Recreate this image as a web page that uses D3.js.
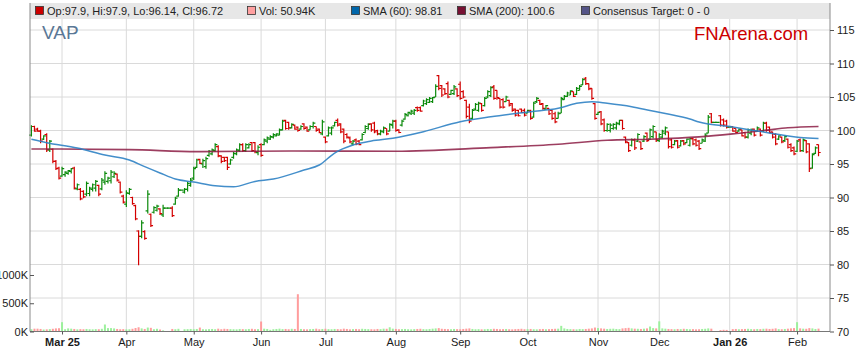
<!DOCTYPE html>
<html>
<head>
<meta charset="utf-8">
<script src="https://cdnjs.cloudflare.com/ajax/libs/d3/7.8.5/d3.min.js"></script>
<style>
  body { margin: 0; background: #fff; }
  svg { display: block; font-family: "Liberation Sans", Arial, sans-serif; }
</style>
</head>
<body>
<div id="canvas"></div>
<script>
// DATA: one bar per weekday, index 0 = 17 Feb 2025
const opens = [
  99.3,100.6,100.2,99.9,98.7,99.4,97.1,97.2,95.4,94.4,
  93.2,93.4,93.6,93.9,94.4,91.3,91.2,90.9,90.5,90.6,
  91.2,91.4,91.8,91.3,92.3,92.4,92.5,93.1,93.5,92.3,
  90.2,89.0,90.6,90.0,88.8,85.0,84.2,84.9,88.0,87.5,
  87.8,88.1,88.3,87.4,88.4,88.4,88.4,89.0,90.2,91.1,
  90.8,91.2,91.8,92.9,94.5,95.7,95.0,94.6,96.3,96.5,
  97.0,97.6,96.2,96.0,96.0,95.0,96.0,96.5,97.0,97.9,
  97.0,97.4,98.2,98.2,96.7,97.9,97.9,98.4,98.7,99.0,
  99.2,99.3,100.1,101.5,101.2,100.4,100.8,100.5,100.2,101.0,
  100.5,100.1,100.6,100.6,100.2,99.5,99.0,99.2,99.6,100.7,
  101.5,101.0,100.2,99.4,98.9,98.0,98.6,98.4,98.6,99.7,
  100.3,101.0,101.1,100.0,99.5,99.8,100.3,99.9,100.8,101.4,
  100.1,100.8,101.7,102.2,102.5,102.6,103.4,103.4,103.7,104.0,
  104.2,104.3,105.0,108.2,106.7,106.2,107.0,105.4,105.5,106.2,
  106.9,105.8,104.5,103.5,101.8,103.2,103.0,104.0,103.7,105.0,
  105.2,106.5,106.0,104.8,104.6,104.3,104.5,104.0,103.2,103.0,
  103.2,103.0,102.6,102.9,102.0,104.3,104.5,104.0,103.2,103.3,
  103.0,102.5,101.8,102.6,104.6,105.1,105.3,105.8,105.4,106.0,
  106.8,107.8,107.0,106.3,104.0,102.4,102.8,101.6,100.0,100.0,
  100.3,100.4,101.0,101.5,99.0,98.2,97.8,98.6,98.4,98.3,
  98.4,99.6,98.7,99.1,99.8,98.5,99.0,99.6,99.8,98.6,
  97.9,98.5,97.7,98.5,98.2,97.8,98.8,98.6,98.4,98.1,
  98.4,99.6,102.5,101.2,101.2,102.2,101.6,101.4,100.5,100.6,
  100.3,99.9,100.1,99.7,99.0,99.6,100.2,99.9,100.2,99.9,
  101.1,100.5,99.8,99.4,98.7,99.0,98.5,98.7,97.9,97.4,
  96.9,98.6,97.0,98.5,98.0,94.4,96.6,97.9
];
const highs = [
  100.8,100.7,100.4,100.1,99.3,99.6,98.6,97.3,95.6,94.6,
  94.6,93.9,94.1,94.4,94.6,92.1,91.4,91.1,92.4,91.6,
  92.1,92.6,91.9,92.9,93.9,93.1,94.1,93.9,93.6,92.4,
  90.4,91.1,91.4,90.1,88.9,85.1,86.6,85.1,91.1,87.6,
  88.7,88.9,88.4,88.9,88.4,88.4,88.7,90.1,91.4,91.1,
  91.4,92.4,92.9,94.6,95.8,95.8,95.8,96.1,97.1,97.3,
  98.1,97.8,96.3,96.1,96.1,95.8,96.8,97.3,98.1,98.1,
  98.1,98.1,98.3,98.3,97.8,98.1,98.8,99.1,99.3,99.6,
  99.6,100.3,101.6,101.6,101.3,101.1,100.9,100.6,100.8,101.1,
  100.6,100.8,101.3,100.6,100.3,101.6,99.1,100.6,100.6,101.3,
  101.8,101.1,100.3,99.6,99.1,98.6,98.8,98.6,99.6,100.8,
  101.1,101.1,101.3,100.1,100.1,100.6,100.3,101.1,101.6,101.6,
  100.2,101.6,102.6,102.8,103.1,103.2,103.6,103.6,104.6,104.8,
  105.0,105.0,106.9,108.3,106.8,106.3,107.3,106.1,106.8,106.3,
  107.3,106.0,104.6,104.0,103.2,104.1,104.3,104.1,105.0,106.0,
  106.6,106.8,106.0,104.8,104.8,105.2,104.6,104.1,103.3,103.1,
  103.3,103.3,103.1,103.1,104.3,105.0,104.6,104.1,103.8,103.3,
  103.1,102.8,102.8,105.0,105.3,105.8,106.0,105.8,106.5,106.8,
  107.8,108.0,107.0,106.3,104.1,102.8,102.9,101.8,101.1,101.1,
  101.1,101.3,101.6,101.6,99.1,98.3,98.8,98.8,99.6,98.3,
  99.3,99.7,100.3,100.8,99.8,99.6,100.1,100.6,99.8,98.8,
  98.6,98.6,98.6,98.6,98.8,98.9,98.9,98.8,98.6,98.8,
  99.6,102.3,102.6,101.2,101.2,102.3,101.8,101.6,100.5,100.6,
  100.3,100.3,100.1,99.8,100.3,100.3,100.3,100.6,100.3,101.3,
  101.3,100.6,99.8,99.6,99.3,99.1,99.3,98.8,98.1,97.6,
  98.6,98.8,98.8,98.6,98.1,96.6,97.6,97.9
];
const lows = [
  99.1,99.8,99.8,98.1,98.6,96.8,96.8,95.1,94.1,92.7,
  93.1,93.1,93.4,93.6,91.2,91.1,89.6,89.9,90.2,90.2,
  90.9,90.9,90.2,91.1,91.9,92.1,92.1,92.9,92.4,90.6,
  89.1,88.6,90.4,88.9,86.6,79.9,83.9,83.7,87.6,85.6,
  87.6,87.9,87.4,87.1,88.4,88.4,87.1,88.9,90.1,91.1,
  90.6,90.9,91.6,92.6,94.4,95.0,94.4,94.3,96.1,96.3,
  96.8,96.0,95.1,95.3,94.1,94.9,95.8,96.3,96.8,96.8,
  96.8,97.3,96.8,96.6,96.3,96.1,97.8,98.1,98.6,98.8,
  99.1,99.3,100.0,100.1,100.1,100.3,100.1,99.8,100.1,100.1,
  99.8,100.1,100.3,99.8,99.6,99.3,98.1,99.1,99.3,100.6,
  100.6,99.6,98.1,98.8,98.1,97.8,97.8,97.8,98.5,99.6,
  100.1,99.8,99.6,99.3,99.3,99.6,99.3,99.9,100.3,99.8,
  99.6,100.6,101.6,102.1,102.3,102.3,102.8,102.8,103.6,103.8,
  104.1,104.1,105.0,106.0,105.0,105.3,104.8,105.3,105.3,105.0,
  104.6,104.8,101.8,101.1,101.6,103.0,102.8,102.8,103.6,104.8,
  105.0,104.6,104.6,103.3,103.3,104.3,103.6,102.8,102.1,102.1,
  102.6,102.1,102.6,101.6,101.9,104.1,103.8,103.1,103.1,102.3,
  101.6,101.1,101.8,102.6,104.6,105.0,105.3,105.0,105.3,106.0,
  106.8,106.8,106.0,104.6,101.6,102.3,100.8,99.8,99.8,99.7,
  100.1,100.1,100.8,100.1,98.1,96.8,97.6,97.1,98.3,97.1,
  98.3,98.3,98.6,98.8,98.3,98.3,98.8,99.3,97.3,97.3,
  97.8,97.3,97.6,97.8,98.1,97.6,97.8,97.6,97.1,98.1,
  98.3,99.6,101.1,101.2,101.2,100.6,100.6,100.3,100.5,99.8,
  99.6,99.8,99.1,98.8,98.8,99.3,99.1,99.8,99.1,99.8,
  99.8,99.6,98.8,97.8,98.6,98.1,98.3,97.3,96.8,96.3,
  96.8,96.8,96.8,96.6,93.8,94.3,96.5,96.14
];
const closes = [
  100.6,99.9,99.9,98.4,99.2,97.1,98.4,95.4,94.3,92.9,
  94.3,93.8,94.0,94.3,91.4,91.9,89.8,90.1,92.1,91.4,
  91.9,92.4,90.5,92.6,93.6,92.9,93.8,93.6,92.6,90.8,
  89.3,90.7,91.2,89.1,86.8,84.2,86.2,83.9,90.5,85.8,
  88.5,88.7,87.6,88.4,88.4,88.4,87.3,89.9,91.1,91.1,
  91.2,92.1,92.6,94.3,95.6,95.1,95.5,95.8,96.9,97.1,
  97.9,96.2,95.4,95.5,94.5,95.6,96.6,97.1,97.9,97.0,
  97.9,97.9,97.0,96.8,97.5,96.3,98.6,98.9,99.1,99.4,
  99.5,100.1,101.4,100.3,100.4,100.9,100.2,100.0,100.6,100.3,
  99.9,100.6,101.1,100.0,99.7,101.3,98.3,100.4,100.4,101.2,
  100.8,99.8,98.4,99.0,98.3,98.4,98.0,97.9,99.4,100.6,
  100.9,100.1,99.8,99.5,99.9,100.4,99.5,100.9,101.4,100.0,
  99.7,101.4,102.4,102.7,102.9,103.0,103.0,102.9,104.4,104.6,
  104.8,104.9,106.6,106.3,105.3,105.5,105.0,106.0,106.5,105.2,
  104.8,105.0,102.1,101.4,103.0,103.9,104.1,103.0,104.8,105.8,
  106.4,104.8,104.9,103.5,103.5,105.0,103.8,103.0,102.3,102.2,
  102.7,102.3,103.0,101.8,104.1,104.8,103.9,103.3,103.7,102.5,
  101.8,101.3,102.5,104.8,105.1,105.6,105.9,105.1,106.3,106.6,
  107.6,107.0,106.2,104.8,101.8,102.7,101.0,100.0,100.9,100.8,
  100.9,101.1,101.5,100.3,98.3,97.0,98.6,97.4,99.4,97.3,
  99.1,98.5,100.1,100.6,98.6,99.4,99.9,100.4,97.6,97.5,
  98.4,97.5,98.4,98.0,98.7,98.8,98.0,97.8,97.3,98.6,
  99.3,102.0,101.2,101.2,101.2,100.8,100.8,100.5,100.5,99.9,
  99.7,100.2,99.2,99.0,100.1,100.1,99.3,100.4,99.3,101.1,
  100.0,99.7,99.0,98.0,99.2,98.3,99.1,97.5,97.0,96.5,
  98.4,97.0,98.6,96.8,94.3,96.4,97.4,96.72
];
// thousands of shares
const volumes = [
  40,50,50,45,35,38,42,48,55,58,
  165,40,55,50,45,38,42,40,45,40,
  38,42,40,48,124,60,60,55,45,40,
  42,38,40,48,62,75,55,45,70,65,
  40,48,35,20,0,0,45,40,48,0,
  40,42,45,40,45,70,40,38,42,45,
  40,50,40,48,45,42,40,38,45,42,
  40,45,48,40,42,177,50,45,30,40,
  45,50,42,45,40,48,45,660,45,40,
  38,42,45,50,40,45,48,42,40,45,
  42,40,50,45,38,42,45,40,48,45,
  42,40,38,45,42,50,48,75,50,45,
  40,42,45,40,38,42,45,48,42,40,
  45,50,55,60,48,45,42,40,45,42,
  40,45,50,55,45,40,42,38,40,45,
  42,48,45,40,42,45,40,38,42,45,
  48,40,42,45,40,38,42,45,40,42,
  45,48,50,100,55,45,42,40,38,45,
  42,45,50,55,70,60,55,50,45,48,
  50,45,42,55,60,65,55,50,48,45,
  50,55,88,60,55,180,55,50,45,42,
  40,45,42,48,45,40,42,38,40,45,
  48,55,50,0,0,25,30,28,0,42,
  45,40,42,45,48,42,40,45,42,48,
  50,45,48,55,42,40,45,50,55,60,
  165,55,50,48,60,55,45,50.94
];

// SMA lines as (bar index, value)
const sma60Index = [0,5,15,24,32,37,42,47,53,60,66,73,79,89,94,99,105,111,118,128,140,150,163,172,178,183,188,196,202,207,215,218,229,240,251,257];
const sma60Values = [98.69,98.18,97.39,96.34,95.6,94.6,93.66,92.76,92.31,91.75,91.6,92.4,92.76,94.1,94.85,96.64,97.84,98.43,98.84,99.82,101.31,102.06,102.81,103.31,104.06,104.3,104.06,103.55,103.0,102.54,101.72,101.27,100.52,99.7,98.96,98.81];
const sma200Index = [0,32,54,86,119,150,172,188,202,218,229,240,247,257];
const sma200Values = [97.25,97.15,96.85,96.95,96.9,97.45,97.95,98.55,98.7,99.05,99.5,100.05,100.4,100.6];

const monthIndex = [10,31,53,75,96,119,140,162,185,205,228,250];
const monthLabels = ["Mar 25","Apr","May","Jun","Jul","Aug","Sep","Oct","Nov","Dec","Jan 26","Feb"];
const priceTicks = [70,75,80,85,90,95,100,105,110,115];
const volumeTicks = [0,500,1000];

function drawGraph() {

  // DIMENSIONS
  const width = 859;
  const height = 363;
  const left = 30, right = 830, frameTop = 3, bottom = 331.5;

  const up = "#0b8a0b", down = "#d40000";

  const canvas = d3.select("#canvas")
    .append("svg")
    .attr("width", width)
    .attr("height", height)
    .style("background", "#fff");

  // SCALES
  const x = d3.scaleLinear().domain([-0.457, 260.75]).range([left, right]);
  const y = d3.scaleLinear().domain([70, 115]).range([bottom, 30]);
  const yVol = d3.scaleLinear().domain([0, 1000]).range([bottom, bottom - 56.5]);

  // LEGEND BAND
  canvas.append("rect")
    .attr("x", left).attr("y", frameTop)
    .attr("width", right - left).attr("height", 16)
    .attr("fill", "#e7e7e7");

  // GRID
  canvas.append("g").selectAll("line").data(priceTicks).enter()
    .append("line")
    .attr("x1", left).attr("x2", right)
    .attr("y1", d => y(d)).attr("y2", d => y(d))
    .attr("stroke", "#dadada");

  canvas.append("g").selectAll("line").data(monthIndex).enter()
    .append("line")
    .attr("x1", d => x(d)).attr("x2", d => x(d))
    .attr("y1", frameTop + 16).attr("y2", bottom)
    .attr("stroke", "#dadada");

  // VOLUME
  canvas.append("g").selectAll("rect").data(volumes).enter()
    .append("rect")
    .attr("x", (d, i) => x(i) - 1)
    .attr("width", 2)
    .attr("y", d => yVol(d))
    .attr("height", d => bottom - yVol(d))
    .attr("fill", (d, i) => closes[i] >= opens[i] ? "#9df09d" : "#ff9d9d");

  // OHLC BARS
  const bars = d3.range(closes.length).map(i => ({ i: i, o: opens[i], h: highs[i], l: lows[i], c: closes[i] }));

  canvas.append("g").selectAll("path").data(bars).enter()
    .append("path")
    .attr("d", d => {
      const cx = x(d.i);
      return `M${cx},${y(d.h)}V${y(d.l)}M${cx - 2.2},${y(d.o)}H${cx}M${cx},${y(d.c)}H${cx + 2.2}`;
    })
    .attr("fill", "none")
    .attr("stroke", d => d.c >= d.o ? up : down)
    .attr("stroke-width", 1.2);

  // SMA LINES
  const line = d3.line()
    .x(d => x(d[0]))
    .y(d => y(d[1]))
    .curve(d3.curveMonotoneX);

  canvas.append("path")
    .datum(d3.zip(sma200Index, sma200Values))
    .attr("d", line)
    .attr("fill", "none")
    .attr("stroke", "#8c1c44")
    .attr("stroke-opacity", 0.85)
    .attr("stroke-width", 1.6);

  canvas.append("path")
    .datum(d3.zip(sma60Index, sma60Values))
    .attr("d", line)
    .attr("fill", "none")
    .attr("stroke", "#2f82c4")
    .attr("stroke-opacity", 0.9)
    .attr("stroke-width", 1.5);

  // FRAME
  canvas.append("line")
    .attr("x1", left).attr("x2", left).attr("y1", frameTop).attr("y2", bottom)
    .attr("stroke", "#8a8a8a");
  canvas.append("line")
    .attr("x1", right).attr("x2", right).attr("y1", frameTop).attr("y2", bottom)
    .attr("stroke", "#8a8a8a");
  canvas.append("line")
    .attr("x1", left).attr("x2", right).attr("y1", bottom).attr("y2", bottom)
    .attr("stroke", "#777");

  // AXES
  const yAx = d3.axisRight(y).tickValues(priceTicks).tickSize(4).tickPadding(3).tickSizeOuter(0);
  const volAx = d3.axisLeft(yVol).tickValues(volumeTicks).tickFormat(d => d + "K").tickSize(-4).tickPadding(2).tickSizeOuter(0);
  const xAx = d3.axisBottom(x).tickValues(monthIndex).tickFormat((d, k) => monthLabels[k]).tickSize(3).tickPadding(4).tickSizeOuter(0);

  const yaxis = canvas.append("g")
    .attr("transform", `translate(${right},0)`)
    .call(yAx);

  const volaxis = canvas.append("g")
    .attr("transform", `translate(${left},0)`)
    .call(volAx);

  const xaxis = canvas.append("g")
    .attr("transform", `translate(0,${bottom})`)
    .call(xAx);

  [yaxis, volaxis, xaxis].forEach(g => {
    g.select(".domain").remove();
    g.selectAll(".tick line").attr("stroke", "#555");
    g.selectAll("text")
      .style("font-family", "'Liberation Sans', Arial, sans-serif")
      .style("font-size", "11px")
      .attr("fill", "#1a1a1a");
  });

  xaxis.selectAll("text")
    .style("font-weight", (d, k) => monthLabels[k].includes(" ") ? "bold" : "normal");

  // TITLES
  canvas.append("text")
    .attr("x", 42).attr("y", 39)
    .style("font-size", "19px")
    .attr("fill", "#5a7796")
    .text("VAP");

  canvas.append("text")
    .attr("x", 694).attr("y", 40)
    .style("font-size", "18.5px")
    .attr("fill", "#cc0000")
    .text("FNArena.com");

  // LEGEND
  const last = closes.length - 1;
  const legendLabels = [
    `Op:${opens[last]}, Hi:${highs[last]}, Lo:${lows[last]}, Cl:${closes[last]}`,
    `Vol: ${volumes[last]}K`,
    `SMA (60): ${sma60Values[sma60Values.length - 1]}`,
    `SMA (200): ${sma200Values[sma200Values.length - 1]}`,
    "Consensus Target: 0 - 0"
  ];
  const legendColors = ["#cc0000", "#ffa0a0", "#0066aa", "#771133", "#555588"];
  const legendX = [35.5, 247.5, 351.5, 457.5, 581.5];

  const legend = canvas.append("g");
  legend.selectAll("rect").data(legendLabels).enter()
    .append("rect")
    .attr("x", (d, i) => legendX[i]).attr("y", 6.5)
    .attr("width", 8).attr("height", 8)
    .attr("fill", (d, i) => legendColors[i])
    .attr("stroke", "#333")
    .attr("stroke-width", 0.8);

  legend.selectAll("text").data(legendLabels).enter()
    .append("text")
    .attr("x", (d, i) => legendX[i] + 11.5).attr("y", 14.5)
    .style("font-size", "11px")
    .attr("fill", "#222")
    .text(d => d);
}

drawGraph();
</script>
</body>
</html>
